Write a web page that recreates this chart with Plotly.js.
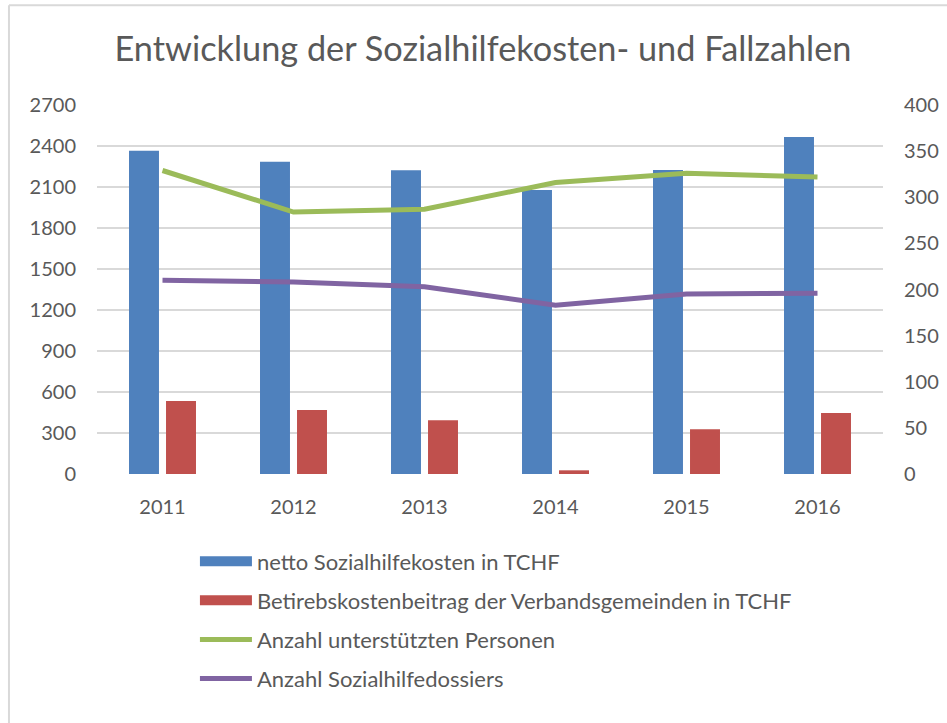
<!DOCTYPE html>
<html>
<head>
<meta charset="utf-8">
<script src="https://cdn.plot.ly/plotly-3.0.1.min.js"></script>
<style>html,body{margin:0;padding:0;background:#fff;}#chart{width:947px;height:723px;}</style>
</head>
<body>
<div id="chart"></div>
<script>
const years = ['2011', '2012', '2013', '2014', '2015', '2016'];
const nettoKosten = [2365, 2285, 2222, 2078, 2224, 2466];
const betriebsBeitrag = [534, 468, 393, 27, 327, 446];
const personen = [329, 284, 287, 316, 326, 322];
const dossiers = [210, 208, 203, 183, 195, 196];
const leftTicks = [0, 300, 600, 900, 1200, 1500, 1800, 2100, 2400, 2700];
const rightTicks = [0, 50, 100, 150, 200, 250, 300, 350, 400];
const seriesNames = ['netto Sozialhilfekosten in TCHF',
                     'Betirebskostenbeitrag der Verbandsgemeinden in TCHF',
                     'Anzahl unterstützten Personen',
                     'Anzahl Sozialhilfedossiers'];

const FONT = 'Lato, "Open Sans", sans-serif';
const TXT = '#595959';
const COLORS = ['#4F81BD', '#C0504D', '#9BBB59', '#8064A2'];

const traces = [
  {type: 'bar', x: years, y: nettoKosten, name: seriesNames[0], showlegend: false,
   marker: {color: COLORS[0]}, legendgroup: 'a', yaxis: 'y'},
  {type: 'bar', x: years, y: betriebsBeitrag, name: seriesNames[1], showlegend: false,
   marker: {color: COLORS[1]}, legendgroup: 'b', yaxis: 'y'},
  {type: 'scatter', mode: 'lines', x: years, y: personen, name: seriesNames[2], legendrank: 3,
   line: {color: COLORS[2], width: 5}, legendgroup: 'c', yaxis: 'y2'},
  {type: 'scatter', mode: 'lines', x: years, y: dossiers, name: seriesNames[3], legendrank: 4,
   line: {color: COLORS[3], width: 5}, legendgroup: 'd', yaxis: 'y2'},
  // legend-only keys drawn as wide rectangles like the original legend
  {type: 'scatter', mode: 'lines', x: [null], y: [null], name: seriesNames[0], legendrank: 1,
   line: {color: COLORS[0], width: 14}, legendgroup: 'a', hoverinfo: 'skip', yaxis: 'y'},
  {type: 'scatter', mode: 'lines', x: [null], y: [null], name: seriesNames[1], legendrank: 2,
   line: {color: COLORS[1], width: 14}, legendgroup: 'b', hoverinfo: 'skip', yaxis: 'y'}
];

const layout = {
  width: 947, height: 723,
  paper_bgcolor: '#ffffff', plot_bgcolor: '#ffffff',
  margin: {l: 97, r: 64, t: 105, b: 249},
  font: {family: FONT, color: TXT, size: 20},
  title: {text: 'Entwicklung der Sozialhilfekosten- und Fallzahlen',
          font: {family: FONT, size: 34.3, color: TXT},
          x: 0.51, xanchor: 'center', y: 0.932, yanchor: 'middle'},
  barmode: 'group', bargap: 0.435, bargroupgap: 0.19,
  xaxis: {type: 'category', categoryarray: years, showgrid: false, zeroline: false, showline: false,
          ticks: '', tickfont: {size: 20, color: TXT}, ticklabelstandoff: 19},
  yaxis: {range: [0, 2700], tickvals: leftTicks, ticktext: leftTicks.map(String),
          showgrid: true, gridcolor: '#D9D9D9', gridwidth: 1.5, zeroline: false,
          showline: false, ticks: '', tickfont: {size: 20, color: TXT}, ticklabelstandoff: 20},
  yaxis2: {range: [0, 400], tickvals: rightTicks, ticktext: rightTicks.map(String),
           overlaying: 'y', side: 'right', showgrid: false, zeroline: false,
           showline: false, ticks: '', tickfont: {size: 20, color: TXT}, ticklabelstandoff: 20},
  showlegend: true,
  legend: {orientation: 'v', x: 0.1246, xanchor: 'left', y: -0.18, yanchor: 'top',
           traceorder: 'grouped', tracegroupgap: 7.5, itemwidth: 52,
           font: {family: FONT, size: 22, color: TXT}, bgcolor: 'rgba(0,0,0,0)'},
  shapes: [
    {type: 'line', xref: 'paper', yref: 'paper', x0: -0.112, x1: 1.2, y0: 1.27, y1: 1.27,
     line: {color: '#D9D9D9', width: 2}},
    {type: 'line', xref: 'paper', yref: 'paper', x0: -0.112, x1: -0.112, y0: 1.27, y1: -0.8,
     line: {color: '#D9D9D9', width: 2}}
  ]
};

Plotly.newPlot('chart', traces, layout, {displayModeBar: false, responsive: false});
</script>
</body>
</html>
